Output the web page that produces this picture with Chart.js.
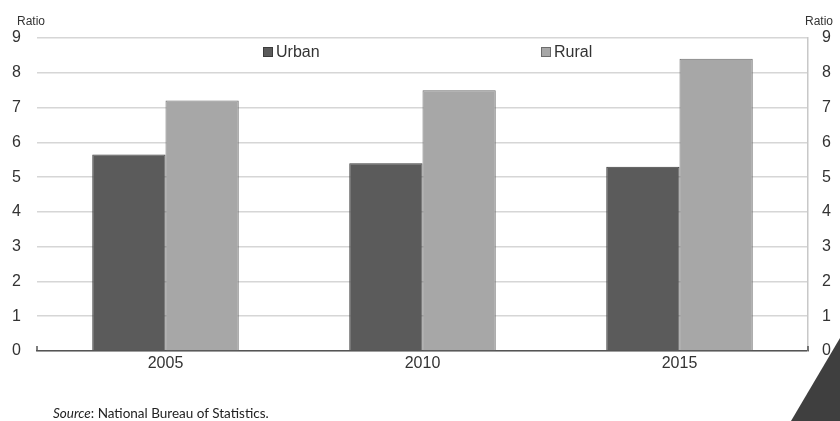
<!DOCTYPE html>
<html>
<head>
<meta charset="utf-8">
<script src="https://cdn.jsdelivr.net/npm/chart.js@4"></script>
<style>
  html, body { margin: 0; padding: 0; background: #fff; }
  #wrap { position: relative; width: 840px; height: 421px; overflow: hidden; }
  #c { position: absolute; left: 0; top: 0; }
  #src { position: absolute; left: 53px; top: 405px; font-family: Lato, "Open Sans", sans-serif; font-size: 13.5px; color: #222; white-space: nowrap; }
  #tri { position: absolute; left: 0; top: 0; width: 840px; height: 421px; background: #3f3f3f;
         clip-path: polygon(840px 338px, 840px 421px, 791px 421px); }
</style>
</head>
<body>
<div id="wrap">
  <canvas id="c" width="840" height="421"></canvas>
  <div id="src"><i>Source</i>: National Bureau of Statistics.</div>
  <div id="tri"></div>
</div>
<script>
const categories = ["2005", "2010", "2015"];
const urbanValues = [5.65, 5.4, 5.3];
const ruralValues = [7.2, 7.5, 8.4];
const seriesNames = ["Urban", "Rural"];
const yTicks = [0, 1, 2, 3, 4, 5, 6, 7, 8, 9];
const axisTitle = "Ratio";

const FONT = '"Liberation Sans", Arial, sans-serif';
const TXT = '#333333';

const overlay = {
  id: 'overlay',
  afterDraw(chart) {
    const ctx = chart.ctx;
    const a = chart.chartArea;
    ctx.save();
    // axis titles
    ctx.fillStyle = TXT;
    ctx.font = '12px ' + FONT;
    ctx.textBaseline = 'middle';
    ctx.textAlign = 'left';
    ctx.fillText(axisTitle, 17, 22);
    ctx.textAlign = 'right';
    ctx.fillText(axisTitle, 833, 22);
    // legend inside plot
    const items = [{x: a.left + 226}, {x: a.left + 504}];
    chart.data.datasets.forEach((ds, i) => {
      const x = items[i].x, y = 52;
      ctx.fillStyle = ds.backgroundColor;
      ctx.fillRect(x, y - 5, 10, 10);
      ctx.strokeStyle = ds.borderColor;
      ctx.lineWidth = 1;
      ctx.strokeRect(x + 0.5, y - 4.5, 9, 9);
      ctx.fillStyle = TXT;
      ctx.font = '16px ' + FONT;
      ctx.textAlign = 'left';
      ctx.textBaseline = 'middle';
      ctx.fillText(ds.label, x + 13, y + 1);
    });
    // small end ticks on x axis
    ctx.strokeStyle = '#555';
    ctx.lineWidth = 1.5;
    ctx.beginPath();
    ctx.moveTo(a.left, a.bottom); ctx.lineTo(a.left, a.bottom - 5);
    ctx.moveTo(a.right, a.bottom); ctx.lineTo(a.right, a.bottom - 5);
    ctx.stroke();
    ctx.restore();
  }
};

new Chart(document.getElementById('c'), {
  type: 'bar',
  data: {
    labels: categories,
    datasets: [
      { label: seriesNames[0], data: urbanValues, backgroundColor: '#5b5b5b', borderColor: '#3c3c3c', borderWidth: 1, yAxisID: 'y' },
      { label: seriesNames[1], data: ruralValues, backgroundColor: '#a7a7a7', borderColor: '#6c6c6c', borderWidth: 1, yAxisID: 'y' }
    ]
  },
  options: {
    responsive: false,
    animation: false,
    events: [],
    layout: { padding: { top: 38, left: 0, right: 0, bottom: 0 } },
    plugins: { legend: { display: false }, tooltip: { enabled: false }, title: { display: false } },
    datasets: { bar: { categoryPercentage: 0.57, barPercentage: 1.0 } },
    scales: {
      x: {
        grid: { display: false, drawTicks: false },
        border: { display: true, color: '#555555', width: 1.5 },
        ticks: { color: TXT, font: { family: FONT, size: 16 }, padding: 3 },
        afterFit(s) { s.height = 70; }
      },
      y: {
        position: 'left',
        min: 0, max: 9,
        afterBuildTicks(s) { s.ticks = yTicks.map(v => ({ value: v })); },
        grid: { color: '#d6d6d6', lineWidth: 1.5, drawTicks: false },
        border: { display: false },
        ticks: { color: TXT, font: { family: FONT, size: 16 }, padding: 16 },
        afterFit(s) { s.width = 37; }
      },
      y2: {
        position: 'right',
        min: 0, max: 9,
        afterBuildTicks(s) { s.ticks = yTicks.map(v => ({ value: v })); },
        grid: { display: false, drawTicks: false },
        border: { display: true, color: '#c8c8c8', width: 1.5 },
        ticks: { color: TXT, font: { family: FONT, size: 16 }, padding: 14 },
        afterFit(s) { s.width = 32; }
      }
    }
  },
  plugins: [overlay]
});
</script>
</body>
</html>
